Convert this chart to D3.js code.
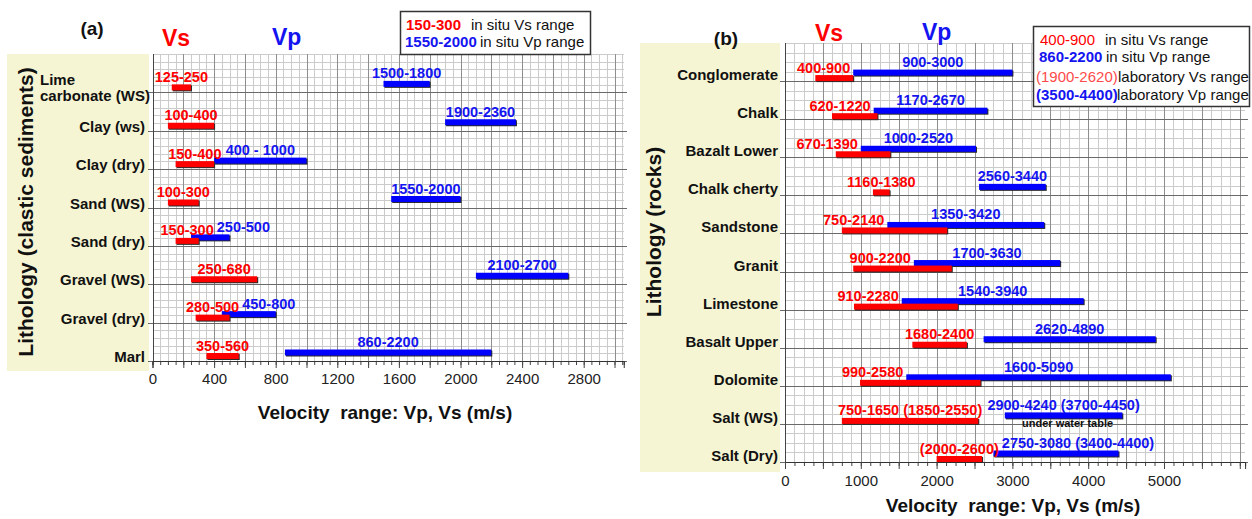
<!DOCTYPE html>
<html>
<head>
<meta charset="utf-8">
<script src="https://cdn.jsdelivr.net/npm/d3@7"></script>
<style>
  body { margin: 0; background: #fff; }
  svg { display: block; font-family: "Liberation Sans", Arial, sans-serif; }
</style>
</head>
<body>
<svg id="chart" width="1252" height="519"></svg>
<script>
// ---------- Panel (a): clastic sediments ----------
const catsA = ["Lime\ncarbonate (WS)", "Clay (ws)", "Clay (dry)", "Sand (WS)", "Sand (dry)",
               "Gravel (WS)", "Gravel (dry)", "Marl"];
const vsA = [[125, 250], [100, 400], [150, 400], [100, 300], [150, 300], [250, 680], [280, 500], [350, 560]];
const vpA = [[1500, 1800], [1900, 2360], [400, 1000], [1550, 2000], [250, 500], [2100, 2700], [450, 800], [860, 2200]];
const ticksA = [0, 400, 800, 1200, 1600, 2000, 2400, 2800];

// ---------- Panel (b): rocks ----------
const catsB = ["Conglomerate", "Chalk", "Bazalt Lower", "Chalk cherty", "Sandstone", "Granit",
               "Limestone", "Basalt Upper", "Dolomite", "Salt (WS)", "Salt (Dry)"];
// in situ ranges
const vsB = [[400, 900], [620, 1220], [670, 1390], [1160, 1380], [750, 2140], [900, 2200],
             [910, 2280], [1680, 2400], [990, 2580], [750, 1650], null];
const vpB = [[900, 3000], [1170, 2670], [1000, 2520], [2560, 3440], [1350, 3420], [1700, 3630],
             [1540, 3940], [2620, 4890], [1600, 5090], [2900, 4240], [2750, 3080]];
// laboratory ranges
const vsLabB = [null, null, null, null, null, null, null, null, null, [1850, 2550], [2000, 2600]];
const vpLabB = [null, null, null, null, null, null, null, null, null, [3700, 4450], [3400, 4400]];
const vpNoteB = ["", "", "", "", "", "", "", "", "", "under water table", ""];
const ticksB = [0, 1000, 2000, 3000, 4000, 5000];

// ---------- shared styling ----------
const RED = "#ff0000", BLUE = "#0000ff", TXT_BLUE = "#1414f0", YELLOW = "#f6f5d3";
const svg = d3.select("#chart");
const crisp = v => Math.round(v) + 0.5;

function measure(text, size, weight) {
  const t = svg.append("text").attr("font-size", size).attr("font-weight", weight).text(text);
  const w = t.node().getComputedTextLength();
  t.remove();
  return w;
}

function rangeText(r, sep) { return r[0] + (sep || "-") + r[1]; }

function combined(inSitu, lab) {
  const parts = [inSitu, lab].filter(Boolean);
  if (!parts.length) return null;
  return [d3.min(parts, p => p[0]), d3.max(parts, p => p[1])];
}

function labelText(inSitu, lab, sep) {
  const s = [];
  if (inSitu) s.push(rangeText(inSitu, sep));
  if (lab) s.push("(" + rangeText(lab) + ")");
  return s.join(" ");
}

function drawPanel(p) {
  const g = svg.append("g");
  const x = d3.scaleLinear().domain([0, p.xMax]).range([p.x0, p.x0 + p.pxPerUnit * p.xMax]);
  const y = d3.scaleBand().domain(p.cats).range([p.yTop, p.yBottom]);
  const bw = y.bandwidth();
  const rowLine = c => y(c) + bw;
  const gx1 = x.range()[1];

  // pale box behind the category names
  g.append("rect").attr("x", p.box[0]).attr("y", p.box[1])
    .attr("width", p.box[2]).attr("height", p.box[3]).attr("fill", YELLOW);

  // graph-paper grid
  const minorVals = d3.range(0, p.xMax + 1e-9, p.minorStep);
  const grid = g.append("g").attr("shape-rendering", "crispEdges");
  grid.selectAll(".vmin").data(minorVals.filter(v => v % p.majorStep !== 0)).join("line")
    .attr("x1", d => crisp(x(d))).attr("x2", d => crisp(x(d)))
    .attr("y1", p.yTop).attr("y2", p.yBottom).attr("stroke", "#cbcbcb");
  const hVals = d3.range(0, p.cats.length * p.hSub).filter(i => i === 0 || i % p.hSub !== 0)
    .map(i => p.yTop + i * bw / p.hSub);
  grid.selectAll(".hmin").data(hVals).join("line")
    .attr("x1", p.x0).attr("x2", gx1).attr("y1", d => crisp(d)).attr("y2", d => crisp(d))
    .attr("stroke", "#cbcbcb");
  grid.selectAll(".vmaj").data(minorVals.filter(v => v % p.majorStep === 0 && v > 0)).join("line")
    .attr("x1", d => crisp(x(d))).attr("x2", d => crisp(x(d)))
    .attr("y1", p.yTop).attr("y2", p.yBottom).attr("stroke", "#8e8e8e");
  grid.selectAll(".row").data(p.cats).join("line")
    .attr("x1", p.x0 - 5).attr("x2", gx1 + 3)
    .attr("y1", d => crisp(rowLine(d))).attr("y2", d => crisp(rowLine(d)))
    .attr("stroke", "#6a6a6a");
  // left axis line
  grid.append("line").attr("x1", crisp(p.x0)).attr("x2", crisp(p.x0))
    .attr("y1", p.yTop).attr("y2", p.yBottom).attr("stroke", "#444");

  // x axis: minor ticks, major ticks, labels
  const axG = g.append("g").attr("transform", `translate(0,${p.yBottom})`);
  axG.call(d3.axisBottom(x).tickValues(minorVals).tickSize(4).tickFormat(""));
  const axMaj = g.append("g").attr("transform", `translate(0,${p.yBottom})`);
  axMaj.call(d3.axisBottom(x).tickValues(minorVals.filter(v => v % p.majorStep === 0))
    .tickSize(7).tickFormat(""));
  const axLab = g.append("g").attr("transform", `translate(0,${p.yBottom})`);
  axLab.call(d3.axisBottom(x).tickValues(p.ticks).tickSize(0).tickPadding(p.tickPad)
    .tickFormat(d3.format("d")));
  [axG, axMaj, axLab].forEach(a => {
    a.select(".domain").attr("stroke", "#333");
    a.selectAll(".tick line").attr("stroke", "#444");
  });
  axLab.select(".domain").remove();
  axLab.selectAll("text").attr("font-size", 15).attr("fill", "#222")
    .attr("font-family", '"Liberation Sans", Arial, sans-serif');

  // axis title
  g.append("text").attr("x", p.titleX).attr("y", p.titleY).attr("text-anchor", "middle")
    .attr("font-size", 19).attr("font-weight", "bold").attr("fill", "#111")
    .text("Velocity\u00a0 range: Vp, Vs (m/s)");

  // vertical title
  g.append("text").attr("transform", `translate(${p.sideX},${p.sideY}) rotate(-90)`)
    .attr("text-anchor", "middle").attr("dominant-baseline", "central")
    .attr("font-size", 21).attr("font-weight", "bold").attr("fill", "#111")
    .text(p.sideTitle);

  // category names (right aligned in the pale box)
  p.cats.forEach(c => {
    const lines = c.split("\n");
    const base = rowLine(c) + p.catDy;
    if (lines.length === 1) {
      g.append("text").attr("x", p.catX).attr("y", base).attr("text-anchor", "end")
        .attr("font-size", 15).attr("font-weight", "bold").attr("fill", "#111").text(c);
    } else {
      const wMax = d3.max(lines, l => measure(l, 15, "bold"));
      const left = p.catX + 5 - wMax;
      lines.forEach((l, k) => {
        g.append("text").attr("x", left).attr("y", base + 8 - (lines.length - 1 - k) * 16)
          .attr("font-size", 15).attr("font-weight", "bold").attr("fill", "#111").text(l);
      });
    }
  });

  // range bars and their labels
  const barH = 6, LBL = 14.5;
  const bars = g.append("g"), labels = g.append("g");
  p.cats.forEach((c, i) => {
    const vs = combined(p.vs[i], p.vsLab ? p.vsLab[i] : null);
    const vp = combined(p.vp[i], p.vpLab ? p.vpLab[i] : null);
    const line = rowLine(c);
    const vsY = line - p.vsOff - barH;
    const vpY = line - (vs ? p.vpOff : p.vsOff) - barH;

    const drawBar = (r, top, color) => {
      bars.append("rect").attr("x", x(r[0]) + 1).attr("y", top + 1)
        .attr("width", x(r[1]) - x(r[0])).attr("height", barH).attr("fill", "#2a2a2a");
      bars.append("rect").attr("x", x(r[0])).attr("y", top)
        .attr("width", x(r[1]) - x(r[0])).attr("height", barH).attr("fill", color);
    };
    if (vp) drawBar(vp, vpY, BLUE);
    if (vs) drawBar(vs, vsY, RED);

    let vsPos = null, vpPos = null, vsTxt, vpTxt;
    if (vp) {
      vpTxt = labelText(p.vp[i], p.vpLab ? p.vpLab[i] : null, p.vpSep ? p.vpSep[i] : null);
      const w = measure(vpTxt, LBL, "bold");
      const cx = (x(vp[0]) + x(vp[1])) / 2;
      vpPos = { x0: cx - w / 2, w };
    }
    if (vs) {
      vsTxt = labelText(p.vs[i], p.vsLab ? p.vsLab[i] : null);
      const w = measure(vsTxt, LBL, "bold");
      if (p.vsBeforeVp && vp && vs[1] >= vp[0]) {
        vsPos = { x0: x(vp[0]) - 3 - w, w };
      } else {
        const cx = (x(vs[0]) + x(vs[1])) / 2;
        vsPos = { x0: cx - w / 2, w };
      }
    }
    if (vsPos && vpPos && vsPos.x0 + vsPos.w + 3 > vpPos.x0) vpPos.x0 = vsPos.x0 + vsPos.w + 3;

    if (vpPos) labels.append("text").attr("x", vpPos.x0).attr("y", vpY - 2.5)
      .attr("font-size", LBL).attr("font-weight", "bold").attr("fill", TXT_BLUE).text(vpTxt);
    if (vsPos) labels.append("text").attr("x", vsPos.x0).attr("y", vsY - 2.5)
      .attr("font-size", LBL).attr("font-weight", "bold").attr("fill", RED).text(vsTxt);

    if (p.vpNote && p.vpNote[i] && vp) {
      labels.append("text").attr("x", (x(vp[0]) + x(vp[1])) / 2 + 4).attr("y", line + 3)
        .attr("text-anchor", "middle").attr("font-size", 11).attr("font-weight", "bold")
        .attr("fill", "#111").text(p.vpNote[i]);
    }
  });

  // panel letter and series headings
  g.append("text").attr("x", p.letterX).attr("y", p.letterY).attr("text-anchor", "middle")
    .attr("font-size", 19).attr("font-weight", "bold").attr("fill", "#111").text(p.letter);
  g.append("text").attr("x", p.vsHeadX).attr("y", p.headY)
    .attr("font-size", 23).attr("font-weight", "bold").attr("fill", RED).text("Vs");
  g.append("text").attr("x", p.vpHeadX).attr("y", p.headY - 1)
    .attr("font-size", 23).attr("font-weight", "bold").attr("fill", TXT_BLUE).text("Vp");

  // legend box
  const L = p.legend;
  const lg = g.append("g");
  lg.append("rect").attr("x", L.box[0] + 0.5).attr("y", L.box[1] + 0.5)
    .attr("width", L.box[2]).attr("height", L.box[3])
    .attr("fill", "#fff").attr("stroke", "#333").attr("stroke-width", 1.5);
  L.rows.forEach(r => {
    lg.append("text").attr("x", r.kx).attr("y", r.y).attr("font-size", 15)
      .attr("font-weight", r.bold ? "bold" : "normal").attr("fill", r.color).text(r.key);
    lg.append("text").attr("x", r.tx).attr("y", r.y).attr("font-size", 15)
      .attr("fill", "#111").text(r.text);
  });
}

drawPanel({
  cats: catsA, vs: vsA, vp: vpA, ticks: ticksA,
  vpSep: [null, null, " - ", null, null, null, null, null],
  xMax: 3060, x0: 152.5, pxPerUnit: 0.154,
  yTop: 54, yBottom: 361, minorStep: 50, majorStep: 200, hSub: 5,
  vsOff: 2, vpOff: 5.5, vsBeforeVp: false,
  box: [7, 54, 142, 317], catX: 145, catDy: 1, tickPad: 12,
  titleX: 385, titleY: 419, sideX: 25, sideY: 212,
  sideTitle: "Lithology (clastic sediments)",
  letter: "(a)", letterX: 92, letterY: 35, vsHeadX: 162, vpHeadX: 272, headY: 46,
  legend: {
    box: [400, 11, 190, 43],
    rows: [
      { key: "150-300", color: RED, bold: true, kx: 406, tx: 471, y: 30, text: "in situ Vs range" },
      { key: "1550-2000", color: TXT_BLUE, bold: true, kx: 405, tx: 480, y: 47, text: "in situ Vp range" }
    ]
  }
});

drawPanel({
  cats: catsB, vs: vsB, vp: vpB, vsLab: vsLabB, vpLab: vpLabB, vpNote: vpNoteB, ticks: ticksB,
  xMax: 6070, x0: 785, pxPerUnit: 0.0758,
  yTop: 43, yBottom: 462, minorStep: 125, majorStep: 500, hSub: 4,
  vsOff: 0, vpOff: 5.5, vsBeforeVp: true,
  box: [640, 43, 140, 429], catX: 778, catDy: -1, tickPad: 13,
  titleX: 1013, titleY: 512, sideX: 653, sideY: 232,
  sideTitle: "Lithology (rocks)",
  letter: "(b)", letterX: 726, letterY: 45, vsHeadX: 815, vpHeadX: 922, headY: 41,
  legend: {
    box: [1033, 26, 216, 80],
    rows: [
      { key: "400-900", color: RED, bold: false, kx: 1040, tx: 1105, y: 45, text: "in situ Vs range" },
      { key: "860-2200", color: TXT_BLUE, bold: true, kx: 1039, tx: 1106, y: 62, text: "in situ Vp range" },
      { key: "(1900-2620)", color: "#ff4a4a", bold: false, kx: 1036, tx: 1118, y: 82, text: "laboratory Vs range" },
      { key: "(3500-4400)", color: TXT_BLUE, bold: true, kx: 1036, tx: 1117, y: 100, text: "laboratory Vp range" }
    ]
  }
});
</script>
</body>
</html>
